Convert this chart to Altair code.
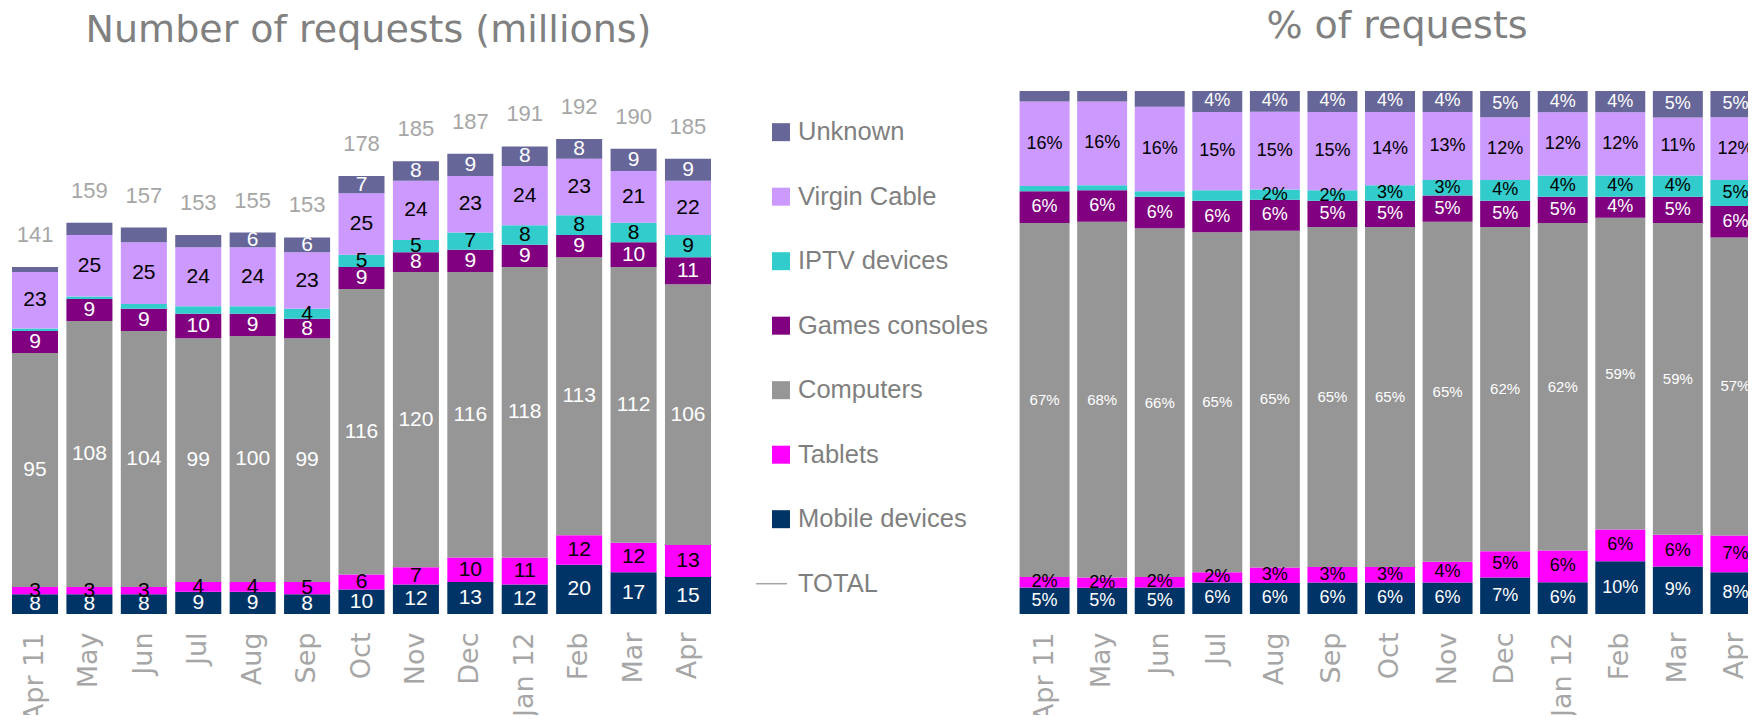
import altair as alt
import pandas as pd

months = ["Apr 11", "May", "Jun", "Jul", "Aug", "Sep", "Oct", "Nov", "Dec", "Jan 12", "Feb", "Mar", "Apr"]
series = ["Mobile devices", "Tablets", "Computers", "Games consoles", "IPTV devices", "Virgin Cable", "Unknown"]
colors = ["#003366", "#ff00ff", "#969696", "#800080", "#33cccc", "#cc99ff", "#666699"]
label_colors = ["#ffffff", "#000000", "#ffffff", "#ffffff", "#000000", "#000000", "#ffffff"]

# Number of requests (millions)
mobile_m = [8, 8, 8, 9, 9, 8, 10, 12, 13, 12, 20, 17, 15]
tablets_m = [3, 3, 3, 4, 4, 5, 6, 7, 10, 11, 12, 12, 13]
computers_m = [95, 108, 104, 99, 100, 99, 116, 120, 116, 118, 113, 112, 106]
games_m = [9, 9, 9, 10, 9, 8, 9, 8, 9, 9, 9, 10, 11]
iptv_m = [1, 1, 2, 3, 3, 4, 5, 5, 7, 8, 8, 8, 9]
virgin_m = [23, 25, 25, 24, 24, 23, 25, 24, 23, 24, 23, 21, 22]
unknown_m = [2, 5, 6, 5, 6, 6, 7, 8, 9, 8, 8, 9, 9]
totals_m = [141, 159, 157, 153, 155, 153, 178, 185, 187, 191, 192, 190, 185]
first_label_m = [0, 0, 0, 0, 5, 0, 4]

# % of requests
mobile_p = [5, 5, 5, 6, 6, 6, 6, 6, 7, 6, 10, 9, 8]
tablets_p = [2, 2, 2, 2, 3, 3, 3, 4, 5, 6, 6, 6, 7]
computers_p = [67, 68, 66, 65, 65, 65, 65, 65, 62, 62, 59, 59, 57]
games_p = [6, 6, 6, 6, 6, 5, 5, 5, 5, 5, 4, 5, 6]
iptv_p = [1, 1, 1, 2, 2, 2, 3, 3, 4, 4, 4, 4, 5]
virgin_p = [16, 16, 16, 15, 15, 15, 14, 13, 12, 12, 12, 11, 12]
unknown_p = [2, 2, 3, 4, 4, 4, 4, 4, 5, 4, 4, 5, 5]
first_label_p = [0, 0, 0, 0, 4, 0, 3]

legend_items = ["Unknown", "Virgin Cable", "IPTV devices", "Games consoles", "Computers", "Tablets", "Mobile devices", "TOTAL"]


def long_table(cols, first_label, suffix, sizes, totals=None):
    rows = []
    for j, (name, vals) in enumerate(zip(series, cols)):
        for i, m in enumerate(months):
            rows.append({
                "month": m, "series": name, "idx": j, "value": vals[i],
                "label": (str(vals[i]) + suffix) if i >= first_label[j] else "",
                "lcolor": label_colors[j], "lsize": sizes[j],
                "total": totals[i] if totals else 0,
            })
    return pd.DataFrame(rows)


df_m = long_table([mobile_m, tablets_m, computers_m, games_m, iptv_m, virgin_m, unknown_m],
                  first_label_m, "", [21] * 7, totals_m)
df_p = long_table([mobile_p, tablets_p, computers_p, games_p, iptv_p, virgin_p, unknown_p],
                  first_label_p, "%", [18, 18, 15, 18, 18, 18, 18])

axis_x = alt.Axis(title=None, labelAngle=-90, labelAlign="right", labelBaseline="middle",
                  labelFont="DejaVu Sans", labelFontSize=27, labelColor="#a6a6a6",
                  labelPadding=18, domain=False, ticks=False, grid=False, labelOverlap=False)
color_enc = alt.Color("series:N", scale=alt.Scale(domain=series, range=colors), legend=None)
order_enc = alt.Order("idx:Q", sort="ascending")


def title(t, dx):
    return alt.TitleParams(t, font="DejaVu Sans", fontSize=38, color="#808080",
                           fontWeight="normal", offset=41, anchor="middle", dx=dx)


# ---- left chart ----
x_l = alt.X("month:N", sort=months, scale=alt.Scale(paddingInner=0.154, paddingOuter=0.0735), axis=axis_x)
ys_l = alt.Scale(domain=[0, 212.5])
base_l = alt.Chart(df_m)
bars_l = base_l.mark_bar().encode(
    x=x_l, y=alt.Y("value:Q", stack="zero", scale=ys_l, axis=None),
    color=color_enc, order=order_enc)
text_l = base_l.transform_stack(
    stack="value", groupby=["month"], as_=["y0", "y1"], sort=[alt.SortField("idx", order="ascending")]
).transform_calculate(mid="(datum.y0 + datum.y1) / 2").mark_text(
    font="Liberation Sans", baseline="middle"
).encode(x=x_l, y=alt.Y("mid:Q", scale=ys_l, axis=None), text="label:N",
         fill=alt.Fill("lcolor:N", scale=None), size=alt.Size("lsize:Q", scale=None))
tot_l = base_l.transform_aggregate(
    top="sum(value)", total="max(total)", groupby=["month"]
).mark_text(font="Liberation Sans", fontSize=22, color="#a6a6a6", dy=-32, baseline="middle").encode(
    x=x_l, y=alt.Y("top:Q", scale=ys_l, axis=None), text="total:Q")
left = alt.layer(bars_l, text_l, tot_l).properties(
    width=707, height=523, title=title("Number of requests (millions)", 7))

# ---- legend ----
df_leg = pd.DataFrame({
    "item": legend_items,
    "col": colors[::-1] + ["#a6a6a6"],
    "kind": ["box"] * 7 + ["line"],
})
y_leg = alt.Y("item:N", scale=alt.Scale(type="point", domain=legend_items, padding=0.554, align=0.576), axis=None)
sq = alt.Chart(df_leg).transform_filter("datum.kind == 'box'").mark_square(size=324, opacity=1).encode(
    x=alt.value(66), y=y_leg, fill=alt.Fill("col:N", scale=None))
ln = alt.Chart(df_leg).transform_filter("datum.kind == 'line'").mark_rule(strokeWidth=1.5, color="#a6a6a6").encode(
    x=alt.value(41), x2=alt.value(72), y=y_leg)
tx = alt.Chart(df_leg).mark_text(align="left", baseline="middle", font="Liberation Sans", fontSize=25.5,
                                 color="#7f7f7f").encode(x=alt.value(83), y=y_leg, text="item:N")
legend = alt.layer(sq, ln, tx).properties(width=301, height=523)

# ---- right chart ----
x_r = alt.X("month:N", sort=months, scale=alt.Scale(paddingInner=0.132, paddingOuter=0.0625), axis=axis_x)
ys_r = alt.Scale(domain=[0, 1])
base_r = alt.Chart(df_p)
bars_r = base_r.mark_bar().encode(
    x=x_r, y=alt.Y("value:Q", stack="normalize", scale=ys_r, axis=None),
    color=color_enc, order=order_enc)
text_r = base_r.transform_stack(
    stack="value", groupby=["month"], as_=["y0", "y1"], offset="normalize",
    sort=[alt.SortField("idx", order="ascending")]
).transform_calculate(mid="(datum.y0 + datum.y1) / 2").mark_text(
    font="Liberation Sans", baseline="middle"
).encode(x=x_r, y=alt.Y("mid:Q", scale=ys_r, axis=None), text="label:N",
         fill=alt.Fill("lcolor:N", scale=None), size=alt.Size("lsize:Q", scale=None))
right = alt.layer(bars_r, text_r).properties(width=748, height=523, title=title("% of requests", 7))

# negative right/bottom padding crops the drawing at the window edge, as in the reference
chart = alt.hconcat(left, legend, right, spacing=0, bounds="flush").properties(
    padding={"left": 0, "top": 0, "right": -16, "bottom": -7}
).configure_view(stroke=None)

chart.save("out.html", embed_options={"renderer": "svg", "actions": False})
